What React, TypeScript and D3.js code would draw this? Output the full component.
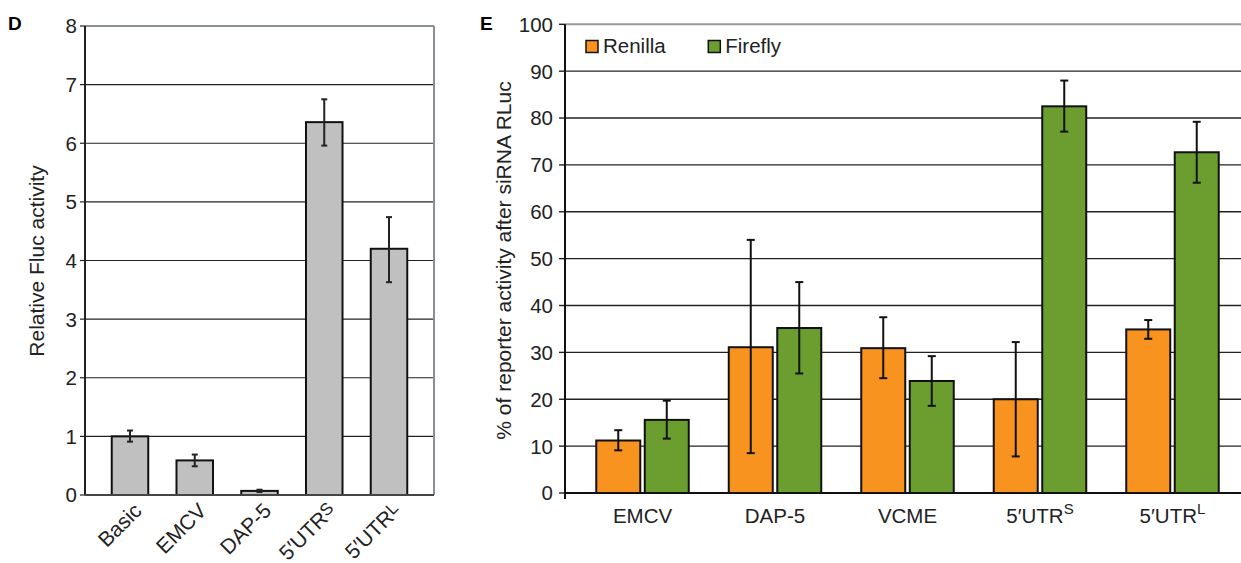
import React from "react";
import * as d3 from "d3";

// Panel D data
const dCategories = ["Basic", "EMCV", "DAP-5", "5′UTR|S", "5′UTR|L"];
const dValues = [1.0, 0.59, 0.07, 6.36, 4.2];
const dErrLow = [0.91, 0.49, 0.05, 5.96, 3.63];
const dErrHigh = [1.1, 0.69, 0.09, 6.75, 4.74];
const dTicks = [0, 1, 2, 3, 4, 5, 6, 7, 8];

// Panel E data
const eCategories = ["EMCV", "DAP-5", "VCME", "5′UTR|S", "5′UTR|L"];
const eSeries = ["Renilla", "Firefly"];
const eRenilla = [11.2, 31.1, 30.9, 20.0, 34.9];
const eRenillaLow = [9.1, 8.5, 24.5, 7.8, 32.9];
const eRenillaHigh = [13.4, 54.0, 37.5, 32.2, 36.9];
const eFirefly = [15.6, 35.2, 23.9, 82.5, 72.7];
const eFireflyLow = [11.6, 25.5, 18.6, 77.1, 66.2];
const eFireflyHigh = [19.7, 45.0, 29.2, 88.0, 79.2];
const eTicks = [0, 10, 20, 30, 40, 50, 60, 70, 80, 90, 100];

const FONT = "'Liberation Sans', Arial, Helvetica, sans-serif";
const ORANGE = "#F7931E";
const GREEN = "#6B9E2F";
const GRAY = "#C0C0C0";

function Label({ text, sup, dy }: { text: string; sup: number; dy: number }) {
  const [main, s] = text.split("|");
  return (
    <>
      {main}
      {s ? (
        <tspan fontSize={sup} dy={dy}>
          {s}
        </tspan>
      ) : null}
    </>
  );
}

function PanelD() {
  const left = 85, right = 434, top = 26, bottom = 495;
  const y = d3.scaleLinear().domain([0, 8]).range([bottom, top]);
  const x = d3
    .scaleBand<string>()
    .domain(dCategories)
    .range([left, right])
    .paddingInner(0.436)
    .paddingOuter(0.413);
  const bw = x.bandwidth();
  return (
    <g>
      <text x={8} y={30} fontFamily={FONT} fontWeight="bold" fontSize={19}>
        D
      </text>
      {dTicks.map((t) => (
        <g key={t}>
          {t > 0 && t < 8 && (
            <line x1={left} x2={right} y1={y(t)} y2={y(t)} stroke="#222" strokeWidth={1.2} />
          )}
          <line x1={left - 5} x2={left} y1={y(t)} y2={y(t)} stroke="#222" strokeWidth={1.2} />
          <text
            x={left - 8}
            y={y(t)}
            dy="0.36em"
            textAnchor="end"
            fontFamily={FONT}
            fontSize={20.5}
            fill="#222"
          >
            {t}
          </text>
        </g>
      ))}
      {/* frame */}
      <line x1={left} x2={right} y1={top} y2={top} stroke="#8a9098" strokeWidth={2} />
      <line x1={right} x2={right} y1={top} y2={bottom} stroke="#8a9098" strokeWidth={2} />
      {dCategories.map((c, i) => {
        const x0 = x(c)!;
        const cx = x0 + bw / 2;
        return (
          <g key={c}>
            <rect
              x={x0}
              y={y(dValues[i])}
              width={bw}
              height={bottom - y(dValues[i])}
              fill={GRAY}
              stroke="#111"
              strokeWidth={2}
            />
            <line x1={cx} x2={cx} y1={y(dErrLow[i])} y2={y(dErrHigh[i])} stroke="#222" strokeWidth={2} />
            <line x1={cx - 3} x2={cx + 3} y1={y(dErrLow[i])} y2={y(dErrLow[i])} stroke="#222" strokeWidth={2} />
            <line x1={cx - 3} x2={cx + 3} y1={y(dErrHigh[i])} y2={y(dErrHigh[i])} stroke="#222" strokeWidth={2} />
            <text
              transform={`translate(${cx + 13},${bottom + 17}) rotate(-45)`}
              textAnchor="end"
              fontFamily={FONT}
              fontSize={21}
              fill="#222"
            >
              <Label text={c} sup={17} dy={-4} />
            </text>
          </g>
        );
      })}
      <line x1={left} x2={left} y1={top} y2={bottom} stroke="#222" strokeWidth={2} />
      <line x1={left} x2={right} y1={bottom} y2={bottom} stroke="#444" strokeWidth={2} />
      <text
        transform={`translate(44,261) rotate(-90)`}
        textAnchor="middle"
        fontFamily={FONT}
        fontSize={21}
        fill="#222"
      >
        Relative Fluc activity
      </text>
    </g>
  );
}

function PanelE() {
  const left = 565, right = 1250, top = 24.3, bottom = 493;
  const y = d3.scaleLinear().domain([0, 100]).range([bottom, top]);
  const x0 = d3.scaleBand<string>().domain(eCategories).range([left, right]).paddingInner(0).paddingOuter(0.085);
  const barW = 44;
  const gap = 4.5;
  const x1 = d3
    .scaleOrdinal<string, number>()
    .domain(eSeries)
    .range([-(barW + gap / 2), gap / 2]);
  const vals: Record<string, number[][]> = {
    Renilla: [eRenilla, eRenillaLow, eRenillaHigh],
    Firefly: [eFirefly, eFireflyLow, eFireflyHigh],
  };
  const color = d3.scaleOrdinal<string, string>().domain(eSeries).range([ORANGE, GREEN]);
  return (
    <g>
      <text x={480} y={30} fontFamily={FONT} fontWeight="bold" fontSize={19}>
        E
      </text>
      {eTicks.map((t) => (
        <g key={t}>
          {t > 0 && t < 100 && (
            <line x1={left} x2={right} y1={y(t)} y2={y(t)} stroke="#222" strokeWidth={1.4} />
          )}
          <line x1={left - 6} x2={left} y1={y(t)} y2={y(t)} stroke="#222" strokeWidth={1.4} />
          <text
            x={left - 12}
            y={y(t)}
            dy="0.36em"
            textAnchor="end"
            fontFamily={FONT}
            fontSize={20.5}
            fill="#222"
          >
            {t}
          </text>
        </g>
      ))}
      <line x1={left} x2={right} y1={top} y2={top} stroke="#999" strokeWidth={2} />
      {eCategories.map((c, i) => {
        const cx = x0(c)! + x0.bandwidth() / 2;
        return (
          <g key={c}>
            {eSeries.map((s) => {
              const [v, lo, hi] = vals[s];
              const bx = cx + x1(s);
              const ex = bx + barW / 2;
              return (
                <g key={s}>
                  <rect
                    x={bx}
                    y={y(v[i])}
                    width={barW}
                    height={bottom - y(v[i])}
                    fill={color(s)}
                    stroke="#111"
                    strokeWidth={2}
                  />
                  <line x1={ex} x2={ex} y1={y(lo[i])} y2={y(hi[i])} stroke="#111" strokeWidth={2} />
                  <line x1={ex - 4} x2={ex + 4} y1={y(lo[i])} y2={y(lo[i])} stroke="#111" strokeWidth={2} />
                  <line x1={ex - 4} x2={ex + 4} y1={y(hi[i])} y2={y(hi[i])} stroke="#111" strokeWidth={2} />
                </g>
              );
            })}
            <text x={cx} y={523} textAnchor="middle" fontFamily={FONT} fontSize={20.5} fill="#222">
              <Label text={c} sup={15} dy={-9} />
            </text>
          </g>
        );
      })}
      <line x1={left} x2={left} y1={top} y2={bottom + 6} stroke="#111" strokeWidth={2} />
      <line x1={left} x2={right} y1={bottom} y2={bottom} stroke="#111" strokeWidth={2} />
      {/* legend */}
      {eSeries.map((s, i) => {
        const lx = 586 + i * 122.3;
        return (
          <g key={s}>
            <rect x={lx} y={40.5} width={12} height={12} fill={color(s)} stroke="#111" strokeWidth={1.5} />
            <text x={lx + 17} y={53} fontFamily={FONT} fontSize={20.5} fill="#222">
              {s}
            </text>
          </g>
        );
      })}
      <text
        transform={`translate(511,260.5) rotate(-90)`}
        textAnchor="middle"
        fontFamily={FONT}
        fontSize={21}
        fill="#222"
      >
        % of reporter activity after siRNA RLuc
      </text>
    </g>
  );
}

export default function App() {
  return (
    <div style={{ position: "absolute", left: 0, top: 0 }}>
      <svg width={1241} height={563} style={{ display: "block", background: "#fff" }}>
        <PanelD />
        <PanelE />
      </svg>
    </div>
  );
}
